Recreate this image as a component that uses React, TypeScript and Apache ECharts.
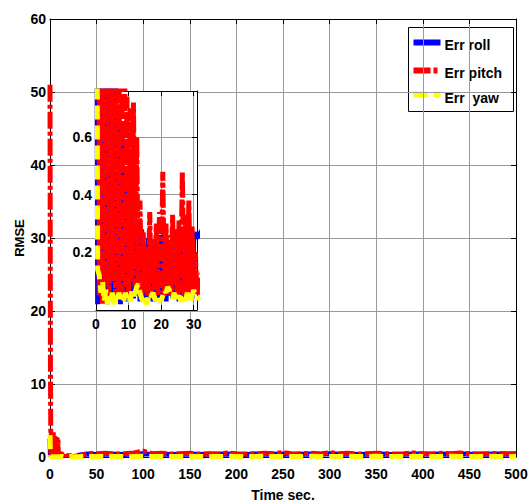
import React, { useEffect, useRef } from "react";
import * as echarts from "echarts";

// sampling step (s) of the early, zoomed-in part of each record
const earlyStep = 0.5;

// t = 0 .. 31 s, every 0.5 s
const pitchEarly = [
  51, 11.5, 0.05, 3.5, 0.02, 3.2, 0.08, 3.4, 0.03, 3.0,
  0.1, 2.8, 0.04, 2.6, 0.06, 2.7, 0.05, 2.5, 0.08, 0.74,
  0.05, 0.7, 0.1, 0.72, 0.08, 0.6, 0.05, 0.38, 0.04, 0.27,
  0.06, 0.22, 0.05, 0.34, 0.04, 0.25, 0.07, 0.3, 0.05, 0.34,
  0.06, 0.48, 0.05, 0.3, 0.08, 0.26, 0.05, 0.33, 0.07, 0.28,
  0.04, 0.31, 0.06, 0.48, 0.05, 0.33, 0.06, 0.38, 0.05, 0.29,
  0.07, 0.2, 0.05,
];
const rollEarly = [
  2.5, 0.02, 1.6, 0.03, 1.4, 0.05, 1.2, 0.02, 1.1, 0.04,
  0.9, 0.03, 0.85, 0.05, 0.7, 0.02, 0.6, 0.04, 0.5, 0.03,
  0.45, 0.05, 0.35, 0.04, 0.3, 0.06, 0.25, 0.03, 0.28, 0.05,
  0.22, 0.04, 0.25, 0.06, 0.2, 0.03, 0.24, 0.05, 0.22, 0.04,
  0.26, 0.05, 0.2, 0.03, 0.23, 0.05, 0.21, 0.04, 0.25, 0.06,
  0.2, 0.03, 0.24, 0.05, 0.22, 0.04, 0.23, 0.05, 0.2, 0.04,
  0.24, 0.27, 0.25,
];
const yawEarly = [
  3.0, 0.14, 0.12, 0.06, 0.1, 0.03, 0.07, 0.02, 0.05, 0.03,
  0.06, 0.02, 0.05, 0.03, 0.06, 0.04, 0.05, 0.03, 0.06, 0.04,
  0.05, 0.03, 0.07, 0.05, 0.06, 0.08, 0.09, 0.06, 0.04, 0.03,
  0.05, 0.02, 0.04, 0.03, 0.05, 0.06, 0.04, 0.03, 0.02, 0.04,
  0.03, 0.05, 0.07, 0.06, 0.08, 0.07, 0.05, 0.04, 0.06, 0.03,
  0.04, 0.05, 0.03, 0.04, 0.05, 0.03, 0.06, 0.04, 0.03, 0.05,
  0.07, 0.05, 0.04,
];

// t = 40 .. 500 s
const tailTimes = [
  40, 50, 60, 70, 80, 90, 100, 110, 120, 130,
  140, 150, 160, 170, 180, 190, 200, 210, 220, 230,
  240, 250, 260, 270, 280, 290, 300, 310, 320, 330,
  340, 350, 360, 370, 380, 390, 400, 410, 420, 430,
  440, 450, 460, 470, 480, 490, 500,
];
const pitchTail = [
  0.5, 0.45, 0.5, 0.4, 0.45, 0.55, 0.8, 0.45, 0.5, 0.4,
  0.45, 0.5, 0.4, 0.45, 0.4, 0.55, 0.45, 0.4, 0.45, 0.5,
  0.45, 0.6, 0.4, 0.45, 0.5, 0.4, 0.6, 0.45, 0.5, 0.4,
  0.45, 0.5, 0.45, 0.4, 0.45, 0.55, 0.45, 0.4, 0.5, 0.45,
  0.55, 0.45, 0.4, 0.45, 0.5, 0.45, 0.45,
];
const rollTail = [
  0.4, 0.35, 0.4, 0.38, 0.35, 0.42, 0.45, 0.36, 0.4, 0.35,
  0.38, 0.4, 0.35, 0.38, 0.36, 0.42, 0.38, 0.35, 0.4, 0.38,
  0.36, 0.42, 0.35, 0.38, 0.4, 0.36, 0.45, 0.38, 0.4, 0.35,
  0.38, 0.4, 0.36, 0.35, 0.38, 0.42, 0.4, 0.36, 0.42, 0.38,
  0.45, 0.38, 0.36, 0.38, 0.4, 0.38, 0.4,
];
const yawTail = [
  0.08, 0.07, 0.09, 0.08, 0.07, 0.08, 0.09, 0.07, 0.08, 0.07,
  0.08, 0.09, 0.07, 0.08, 0.07, 0.09, 0.08, 0.07, 0.08, 0.09,
  0.07, 0.08, 0.07, 0.08, 0.09, 0.07, 0.08, 0.08, 0.09, 0.07,
  0.08, 0.09, 0.07, 0.08, 0.07, 0.09, 0.08, 0.07, 0.08, 0.09,
  0.08, 0.07, 0.08, 0.09, 0.08, 0.07, 0.08,
];

const seriesNames = ["Err roll", "Err pitch", "Err  yaw"];
const seriesColors = ["#0000ff", "#ff0000", "#ffff00"];

const FONT = "'Liberation Sans', Arial, sans-serif";

function build(early: number[], tail: number[]) {
  return [
    ...early.map((v, i) => [i * earlyStep, v]),
    ...tail.map((v, i) => [tailTimes[i], v]),
  ];
}

export default function App() {
  const ref = useRef<HTMLDivElement>(null);

  useEffect(() => {
    if (!ref.current) return;
    const chart = echarts.init(ref.current, undefined, { renderer: "svg" });

    const data = [
      build(rollEarly, rollTail),
      build(pitchEarly, pitchTail),
      build(yawEarly, yawTail),
    ];
    const dashes: any[] = ["solid", [17, 3, 4, 3], [14, 6]];

    const labelStyle = { fontFamily: FONT, fontWeight: "bold", fontSize: 14, color: "#000" };
    const blackLine = { show: true, onZero: false, lineStyle: { color: "#000", width: 1 } };
    const tick = { show: true, inside: true, length: 5, lineStyle: { color: "#000" } };
    const grayGrid = { show: true, lineStyle: { color: "#9a9a9a", width: 1 } };

    const series: any[] = [];
    [0, 1, 2].forEach((k) => {
      series.push({
        name: seriesNames[k],
        type: "line",
        xAxisIndex: 0,
        yAxisIndex: 0,
        data: data[k],
        showSymbol: false,
        symbol: "none",
        z: 2 + k * 0.1,
        lineStyle: { color: seriesColors[k], width: 5, type: dashes[k] },
      });
    });
    [0, 1, 2].forEach((k) => {
      series.push({
        name: seriesNames[k],
        type: "line",
        xAxisIndex: 2,
        yAxisIndex: 2,
        data: data[k],
        showSymbol: false,
        symbol: "none",
        z: 5 + k * 0.1,
        lineStyle: { color: seriesColors[k], width: 5, type: dashes[k] },
      });
    });

    const legendFont = { fontFamily: FONT, fontWeight: "bold", fontSize: 14, fill: "#000" } as any;

    chart.setOption({
      animation: false,
      backgroundColor: "#fff",
      grid: [
        { left: 50, top: 19, width: 466, height: 438, show: false, containLabel: false, outerBoundsMode: "none" },
        {
          left: 96, top: 91, width: 101, height: 219, show: true, backgroundColor: "#fff",
          borderWidth: 0, z: 3, containLabel: false, outerBoundsMode: "none",
        },
      ],
      xAxis: [
        {
          gridIndex: 0, type: "value", min: 0, max: 500, interval: 50, position: "bottom",
          axisLine: blackLine, axisTick: tick,
          axisLabel: { ...labelStyle, margin: 10 },
          splitLine: grayGrid,
          name: "Time sec.", nameLocation: "middle", nameGap: 31, nameMoveOverlap: false,
          nameTextStyle: { ...labelStyle },
        },
        {
          gridIndex: 0, type: "value", min: 0, max: 500, interval: 50, position: "top",
          axisLine: blackLine, axisTick: tick, axisLabel: { show: false }, splitLine: { show: false },
        },
        {
          gridIndex: 1, type: "value", min: 0, max: 31, interval: 10, position: "bottom", z: 4,
          axisLine: blackLine, axisTick: tick,
          axisLabel: { ...labelStyle, margin: 7, showMaxLabel: false },
          splitLine: grayGrid,
        },
        {
          gridIndex: 1, type: "value", min: 0, max: 31, interval: 10, position: "top", z: 4,
          axisLine: blackLine, axisTick: tick, axisLabel: { show: false }, splitLine: { show: false },
        },
      ],
      yAxis: [
        {
          gridIndex: 0, type: "value", min: 0, max: 60, interval: 10, position: "left",
          axisLine: blackLine, axisTick: tick,
          axisLabel: { ...labelStyle, margin: 4 },
          splitLine: grayGrid,
          name: "RMSE", nameLocation: "middle", nameRotate: 90, nameGap: 24, nameMoveOverlap: false,
          nameTextStyle: { ...labelStyle, fontSize: 13 },
        },
        {
          gridIndex: 0, type: "value", min: 0, max: 60, interval: 10, position: "right",
          axisLine: blackLine, axisTick: tick, axisLabel: { show: false }, splitLine: { show: false },
        },
        {
          gridIndex: 1, type: "value", min: 0, max: 0.76, interval: 0.2, position: "left", z: 4,
          axisLine: blackLine, axisTick: tick,
          axisLabel: {
            ...labelStyle, margin: 4, showMinLabel: false, showMaxLabel: false,
            formatter: (v: number) => v.toFixed(1),
          },
          splitLine: grayGrid,
        },
        {
          gridIndex: 1, type: "value", min: 0, max: 0.76, interval: 0.2, position: "right", z: 4,
          axisLine: blackLine, axisTick: tick, axisLabel: { show: false }, splitLine: { show: false },
        },
      ],
      series,
      graphic: [
        {
          type: "group", left: 408, top: 27, z: 10,
          children: [
            { type: "rect", shape: { x: 0, y: 0, width: 105, height: 84 }, style: { fill: "#fff", stroke: "#000", lineWidth: 1 } },
            { type: "line", shape: { x1: 5, y1: 15, x2: 32, y2: 15 }, style: { stroke: seriesColors[0], lineWidth: 6 } },
            { type: "line", shape: { x1: 5, y1: 43, x2: 32, y2: 43 }, style: { stroke: seriesColors[1], lineWidth: 6, lineDash: [17, 3, 4, 3] } },
            { type: "line", shape: { x1: 5, y1: 67, x2: 32, y2: 67 }, style: { stroke: seriesColors[2], lineWidth: 6, lineDash: [14, 6] } },
            { type: "text", x: 36, y: 17, style: { ...legendFont, text: seriesNames[0], verticalAlign: "middle" } },
            { type: "text", x: 36, y: 45, style: { ...legendFont, text: seriesNames[1], verticalAlign: "middle" } },
            { type: "text", x: 36, y: 70, style: { ...legendFont, text: seriesNames[2], verticalAlign: "middle" } },
          ],
        },
      ],
    });

    return () => chart.dispose();
  }, []);

  return <div ref={ref} style={{ width: 532, height: 504, position: "absolute", left: 0, top: 0 }} />;
}
